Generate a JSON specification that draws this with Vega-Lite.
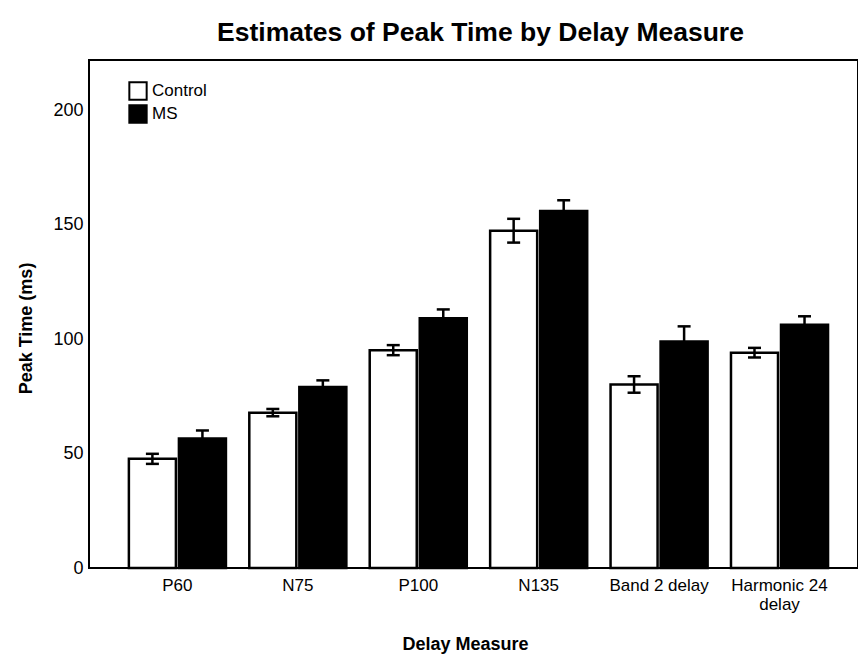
{
  "$schema": "https://vega.github.io/schema/vega-lite/v6.json",
  "width": 769,
  "height": 508,
  "autosize": {"type": "none"},
  "padding": {"left": 89, "top": 60, "right": 0, "bottom": 90},
  "background": "white",
  "title": {
    "text": "Estimates of Peak Time by Delay Measure",
    "fontSize": 26.5,
    "fontWeight": "bold",
    "font": "Liberation Sans, Arial, sans-serif",
    "color": "black",
    "offset": 14,
    "dx": 7
  },
  "config": {
    "font": "Liberation Sans, Arial, sans-serif",
    "view": {"stroke": "black", "strokeWidth": 2},
    "axis": {"grid": false, "domain": false, "labelColor": "black", "titleColor": "black"}
  },
  "data": {
    "values": [
      {"measure": "P60", "group": "Control", "mean": 47.7, "lo": 45.5, "hi": 49.9},
      {"measure": "P60", "group": "MS", "mean": 56.6, "lo": 53.1, "hi": 60.1},
      {"measure": "N75", "group": "Control", "mean": 67.9, "lo": 66.3, "hi": 69.5},
      {"measure": "N75", "group": "MS", "mean": 79.1, "lo": 76.2, "hi": 82.0},
      {"measure": "P100", "group": "Control", "mean": 95.2, "lo": 93.0, "hi": 97.4},
      {"measure": "P100", "group": "MS", "mean": 109.1, "lo": 105.2, "hi": 113.0},
      {"measure": "N135", "group": "Control", "mean": 147.4, "lo": 142.2, "hi": 152.6},
      {"measure": "N135", "group": "MS", "mean": 156.0, "lo": 151.3, "hi": 160.7},
      {"measure": "Band 2 delay", "group": "Control", "mean": 80.2, "lo": 76.6, "hi": 83.8},
      {"measure": "Band 2 delay", "group": "MS", "mean": 99.0, "lo": 92.4, "hi": 105.6},
      {"measure": "Harmonic 24 delay", "group": "Control", "mean": 94.1, "lo": 92.0, "hi": 96.2},
      {"measure": "Harmonic 24 delay", "group": "MS", "mean": 106.3, "lo": 102.6, "hi": 110.0}
    ]
  },
  "encoding": {
    "x": {
      "field": "measure",
      "type": "nominal",
      "sort": ["P60", "N75", "P100", "N135", "Band 2 delay", "Harmonic 24 delay"],
      "scale": {"paddingInner": 0.194, "paddingOuter": 0.29, "align": 0.571},
      "axis": {
        "title": "Delay Measure",
        "titleFontSize": 18,
        "titleFontWeight": "bold",
        "titleX": 376,
        "titleY": 81,
        "titleAlign": "center",
        "titleBaseline": "alphabetic",
        "labelAngle": 0,
        "labelFontSize": 17,
        "labelPadding": 9,
        "labelLineHeight": 19,
        "ticks": false,
        "labelExpr": "datum.value == 'Harmonic 24 delay' ? ['Harmonic 24', 'delay'] : datum.value"
      }
    },
    "xOffset": {
      "field": "group",
      "type": "nominal",
      "sort": ["Control", "MS"],
      "scale": {"paddingInner": 0.06, "paddingOuter": 0}
    }
  },
  "layer": [
    {
      "mark": {"type": "bar", "stroke": "black", "strokeWidth": 2.5},
      "encoding": {
        "y": {
          "field": "mean",
          "type": "quantitative",
          "scale": {"domain": [0, 222], "nice": false},
          "axis": {
            "title": "Peak Time (ms)",
            "titleFontSize": 18,
            "titleFontWeight": "bold",
            "titleX": -58,
            "titleY": 268,
            "titleAlign": "center",
            "titleBaseline": "alphabetic",
            "values": [0, 50, 100, 150, 200],
            "labelFontSize": 18,
            "labelPadding": 6,
            "ticks": false
          }
        },
        "color": {
          "field": "group",
          "type": "nominal",
          "sort": ["Control", "MS"],
          "scale": {"range": ["white", "black"]},
          "legend": {
            "title": null,
            "orient": "none",
            "legendX": 39,
            "legendY": 21,
            "padding": 0,
            "symbolType": "square",
            "symbolSize": 300,
            "symbolStrokeColor": "black",
            "symbolStrokeWidth": 2,
            "labelFontSize": 17,
            "labelColor": "black",
            "labelOffset": 4,
            "rowPadding": -3
          }
        }
      }
    },
    {
      "mark": {"type": "rule", "color": "black", "strokeWidth": 2.5},
      "encoding": {
        "y": {"field": "lo", "type": "quantitative"},
        "y2": {"field": "hi"}
      }
    },
    {
      "mark": {"type": "tick", "orient": "horizontal", "color": "black", "size": 13, "thickness": 2.5, "opacity": 1},
      "encoding": {
        "y": {"field": "hi", "type": "quantitative"}
      }
    },
    {
      "mark": {"type": "tick", "orient": "horizontal", "color": "black", "size": 13, "thickness": 2.5, "opacity": 1},
      "encoding": {
        "y": {"field": "lo", "type": "quantitative"}
      }
    }
  ]
}
